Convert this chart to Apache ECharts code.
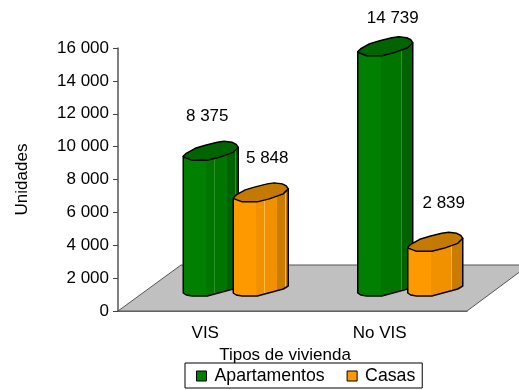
<!DOCTYPE html>
<html><head><meta charset="utf-8">
<style>html,body{margin:0;padding:0;background:#fff}#c{width:519px;height:390px}</style>
<script src="https://cdn.jsdelivr.net/npm/echarts@6/dist/echarts.min.js"></script>
</head><body><div id="c"></div>
<script>
const categories = ['VIS', 'No VIS'];
const seriesNames = ['Apartamentos', 'Casas'];
const apartamentos = [8375, 14739];
const casas = [5848, 2839];
const yMax = 16000, yStep = 2000;

const FONT = '"Liberation Sans", Arial, sans-serif';
const FS = 17;
const DEPTH_Y = 16;
const LIFT = 1;
const SIDE = {
  top: [[0,0],[3,-3],[12,-8],[22,-11],[34,-14],[41,-15],[49,-14],[53,-12],[55,-9],[50,-4],[36,1],[24,4],[9,4],[1,1]],
  base: [[55,-9],[50,-6],[24,1],[9,1],[3,0],[0,-2]]
};
const fmt = v => String(v).replace(/\B(?=(\d{3})+$)/g, ' ');

function barItem(palette, xShift, labelShift) {
  return function (params, api) {
    const i = api.value(0), v = api.value(1);
    const centre = api.coord([i, 0]);
    const L = centre[0] + xShift;
    const B = centre[1] - DEPTH_Y;
    const T = api.coord([i, v])[1] - DEPTH_Y - LIFT;
    const body = [[L, T]].concat([[L + 55, T - 9]],
      SIDE.base.map(p => [L + p[0], B + p[1]]));
    const top = SIDE.top.map(p => [L + p[0], T + p[1]]);
    const c = palette;
    const stops = [
      [0, c.a],[.42, c.a],[.42, c.b],[.56, c.b],[.56, c.h],[.575, c.h],[.575, c.b],
      [.78, c.b],[.78, c.h],[.795, c.h],[.795, c.d],[.93, c.d],[.93, c.h],[.94, c.h],[.94, c.d],[1, c.d]
    ].map(s => ({offset: s[0], color: s[1]}));
    const ls = labelShift[i];
    return {
      type: 'group',
      children: [
        {type:'polygon', shape:{points:body}, style:{
          fill:{type:'linear',x:0,y:0,x2:1,y2:0,colorStops:stops}, stroke:'#000', lineWidth:1.5, lineJoin:'round'}},
        {type:'polygon', shape:{points:top}, style:{fill:c.t, stroke:'#000', lineWidth:1.5, lineJoin:'round'}},
        {type:'text', style:{text:fmt(v), x:L + ls[0], y:T + ls[1], align:'center', verticalAlign:'middle',
          font:FS + 'px ' + FONT, fill:'#000'}}
      ]
    };
  };
}

const chart = echarts.init(document.getElementById('c'), null, {renderer:'canvas'});
chart.setOption({
  animation:false,
  textStyle:{fontFamily:FONT},
  grid:{left:118, right:52, top:48, bottom:79, containLabel:false, outerBoundsMode:'none'},
  legend:{
    left:185, top:363,
    data:seriesNames, orient:'horizontal', icon:'rect', itemWidth:10, itemHeight:10, itemGap:22,
    padding:[4,7,3,11], borderColor:'#000', borderWidth:1,
    itemStyle:{borderColor:'#000', borderWidth:1},
    textStyle:{fontSize:17.7, fontFamily:FONT, color:'#000', padding:[0,0,0,3]}
  },
  xAxis:{
    type:'category', data:categories, boundaryGap:true,
    axisLine:{lineStyle:{color:'#444', width:1.5}}, axisTick:{show:false},
    axisLabel:{fontSize:FS, color:'#000', margin:14, fontFamily:FONT},
    name:'Tipos de vivienda', nameLocation:'middle', nameGap:32,
    nameTextStyle:{fontSize:FS, color:'#000', fontFamily:FONT, padding:[0,15,0,0]}
  },
  yAxis:{
    type:'value', min:0, max:yMax, interval:yStep,
    splitLine:{show:false},
    axisLine:{show:true, lineStyle:{color:'#555', width:1.5}},
    axisTick:{show:true, length:5, lineStyle:{color:'#444'}},
    axisLabel:{fontSize:FS, color:'#000', margin:9, formatter:fmt, fontFamily:FONT},
    name:'Unidades', nameLocation:'middle', nameGap:87, nameRotate:90,
    nameTextStyle:{fontSize:FS, color:'#000', fontFamily:FONT}
  },
  series:[
    {type:'custom', silent:true, z:1, data:[[0,0]], legendHoverLink:false,
     renderItem:function(params, api){
       const o = api.coord([0,0]);
       const cs = params.coordSys;
       const r = cs.x + cs.width;
       return {type:'polygon', shape:{points:[[cs.x, o[1]],[cs.x+63, o[1]-46],[r+62, o[1]-46],[r, o[1]]]},
         style:{fill:'#c0c0c0', stroke:'#555', lineWidth:1}};
     }},
    {name:seriesNames[0], type:'custom', z:2, itemStyle:{color:'#008000'},
     data:apartamentos.map((v,i)=>[i,v]), encode:{x:0,y:1},
     renderItem:barItem({a:'#007f00',b:'#007500',d:'#006300',h:'#2f8f2f',t:'#006400'}, -22, [[24,-40],[35,-33]])},
    {name:seriesNames[1], type:'custom', z:3, itemStyle:{color:'#ff9900'},
     data:casas.map((v,i)=>[i,v]), encode:{x:0,y:1},
     renderItem:barItem({a:'#ff9900',b:'#f29100',d:'#c97c00',h:'#ffb84d',t:'#c47a00'}, 28, [[34,-40],[36,-44]])}
  ]
});
</script></body></html>
